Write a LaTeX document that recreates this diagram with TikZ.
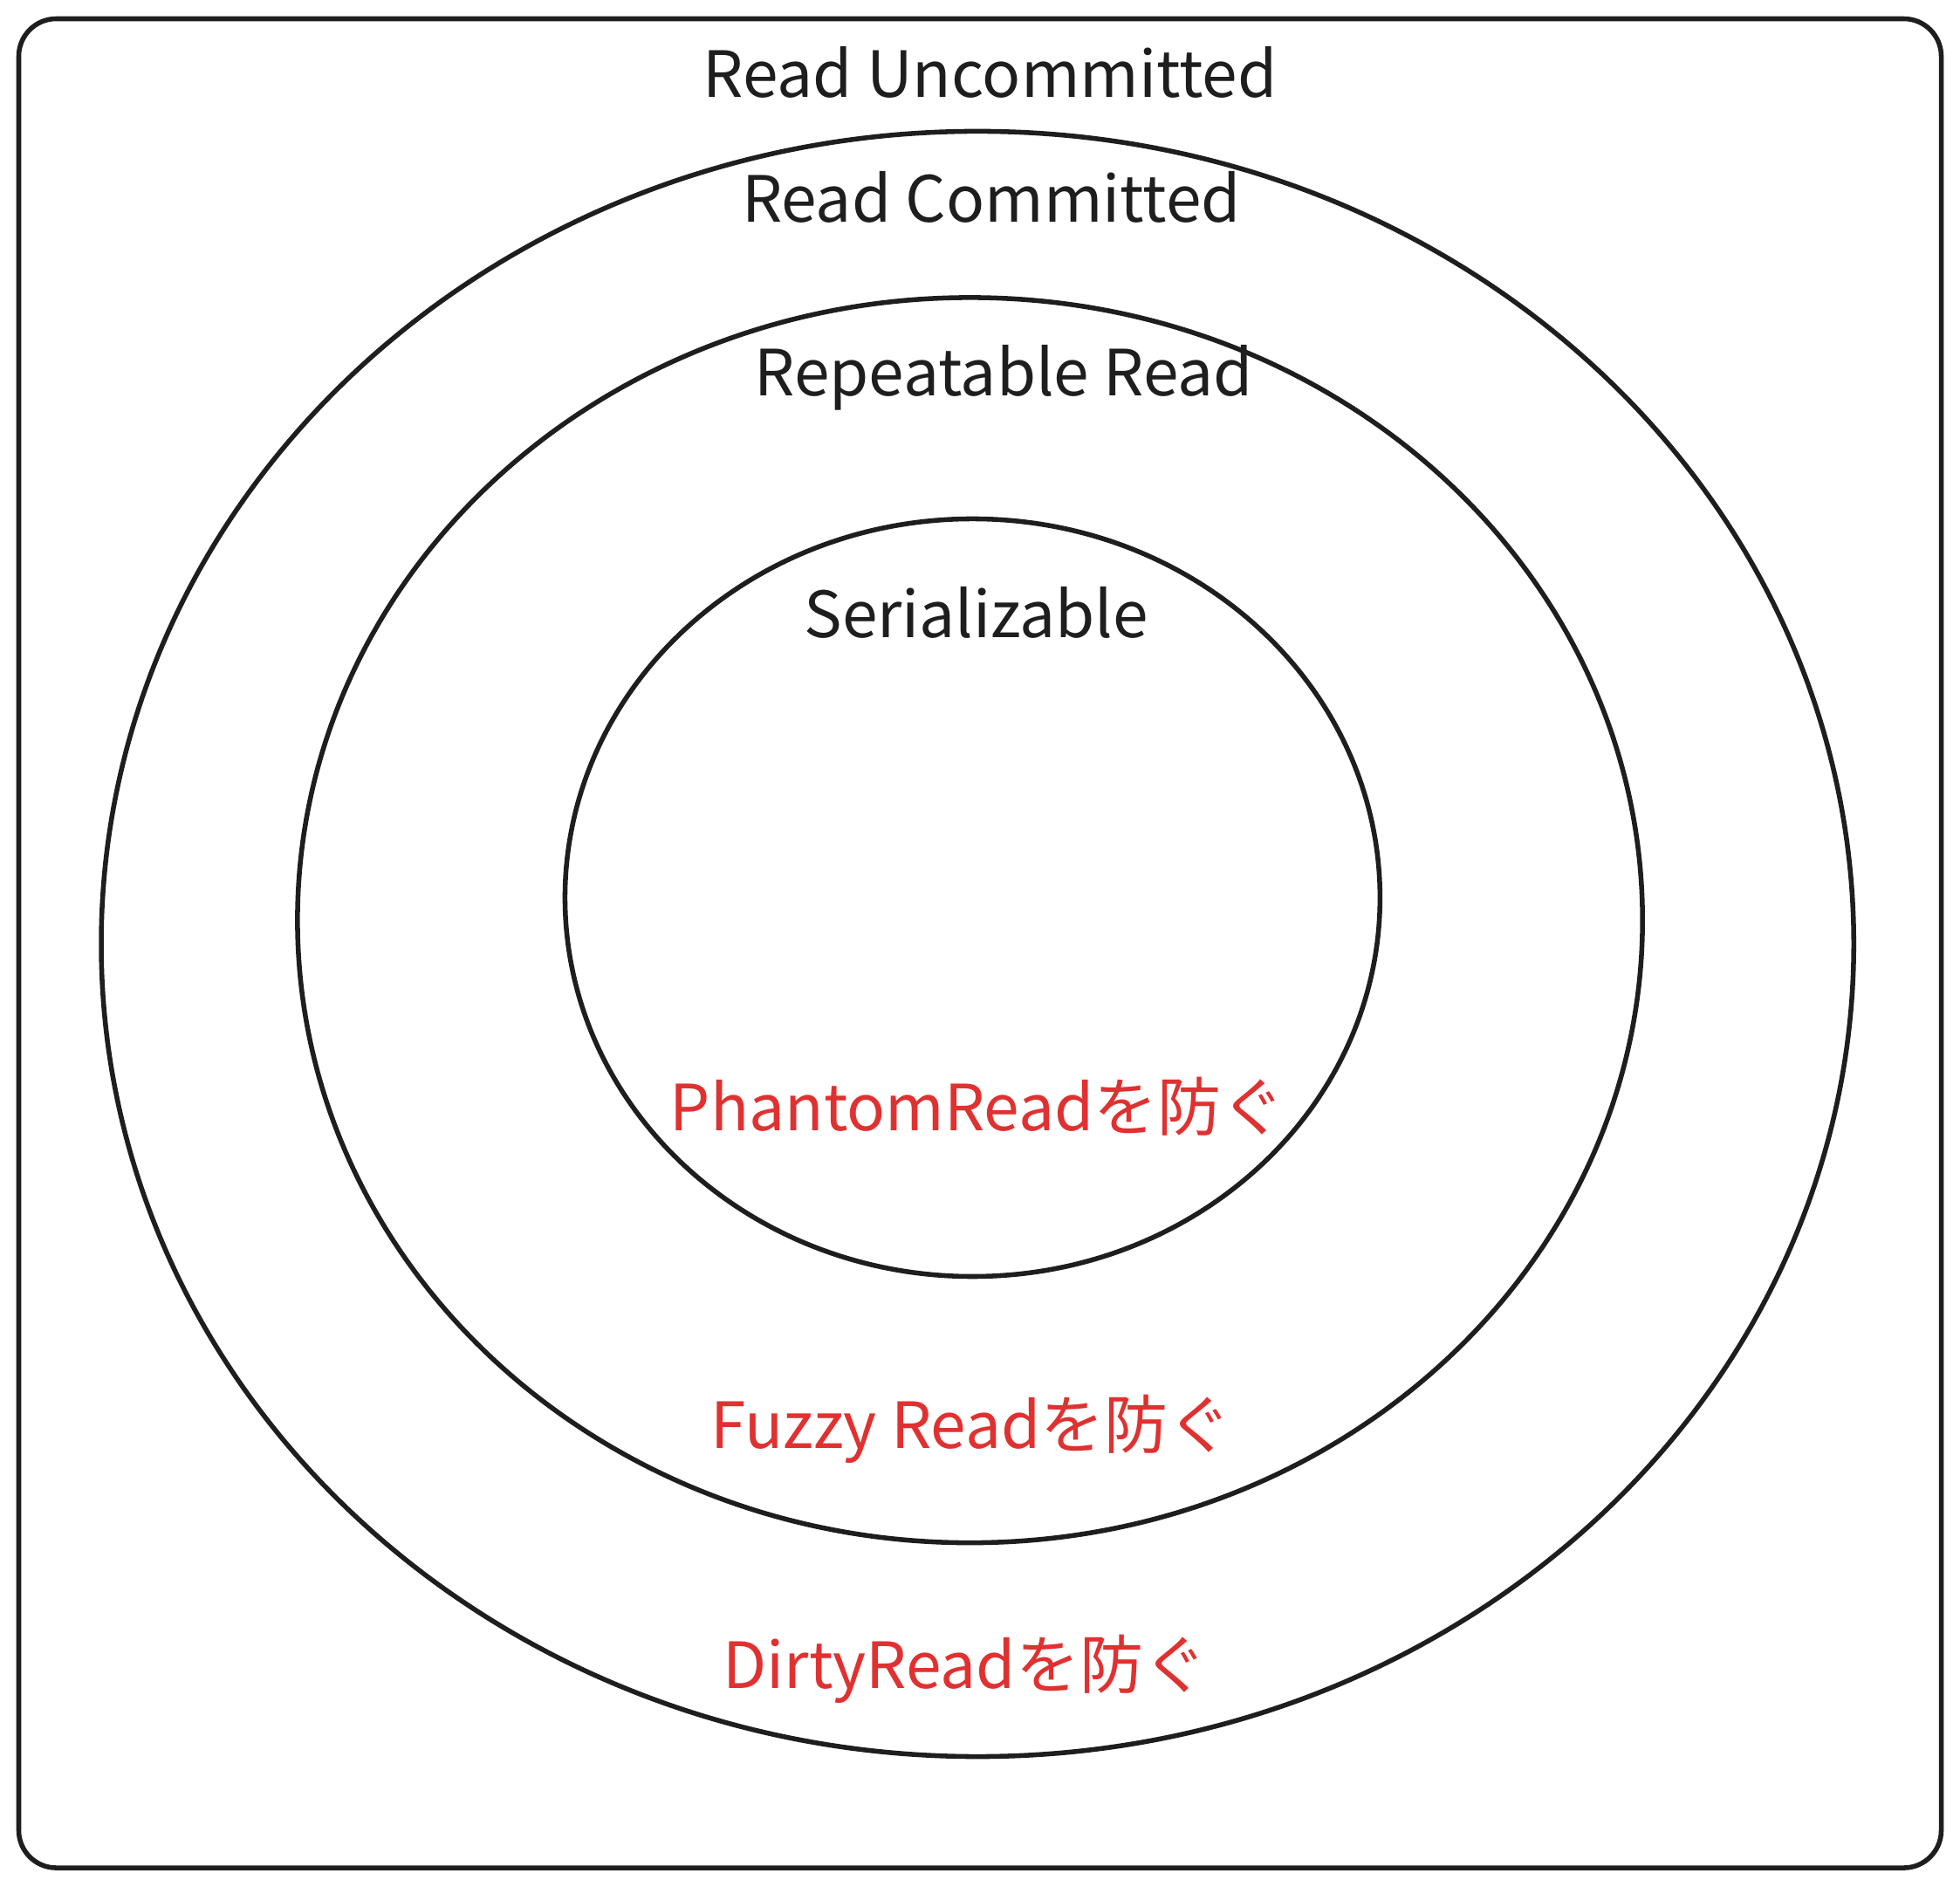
\documentclass[tikz,border=0pt]{standalone}
\usepackage{fontspec}
\setmainfont{Noto Sans CJK JP}
\usetikzlibrary{shapes.geometric}
\definecolor{ink}{HTML}{1E1E1E}
\definecolor{alert}{HTML}{E03131}
\tikzset{
  level/.style={draw=ink, line width=1.1pt, ellipse, inner sep=0pt},
  lbl/.style={text=ink, font=\fontsize{14.5}{17}\selectfont},
  guard/.style={text=alert, font=\fontsize{14.5}{17}\selectfont}
}
\begin{document}
\begin{tikzpicture}
  \useasboundingbox (0,0) rectangle (15.68,-15.09);
  \draw[ink, line width=1.1pt, rounded corners=0.3cm] (0.15,-0.15) rectangle (15.53,-14.94);
  \draw
    (7.82,-7.55) node[level, minimum width=14.02cm, minimum height=13.00cm] (rc){}
    (7.76,-7.36) node[level, minimum width=10.76cm, minimum height=9.96cm] (rr){}
    (7.78,-7.18) node[level, minimum width=6.52cm, minimum height=6.06cm] (ser){};
  \draw
    (7.92,-0.58) node[lbl] (ru-name){Read Uncommitted}
    (7.93,-1.58) node[lbl] (rc-name){Read Committed}
    (8.03,-3.02) node[lbl] (rr-name){Repeatable Read}
    (7.81,-4.90) node[lbl] (ser-name){Serializable}
    (7.82,-8.85) node[guard] (phantom){PhantomReadを防ぐ}
    (7.77,-11.43) node[guard] (fuzzy){Fuzzy Readを防ぐ}
    (7.72,-13.35) node[guard] (dirty){DirtyReadを防ぐ};
\end{tikzpicture}
\end{document}
